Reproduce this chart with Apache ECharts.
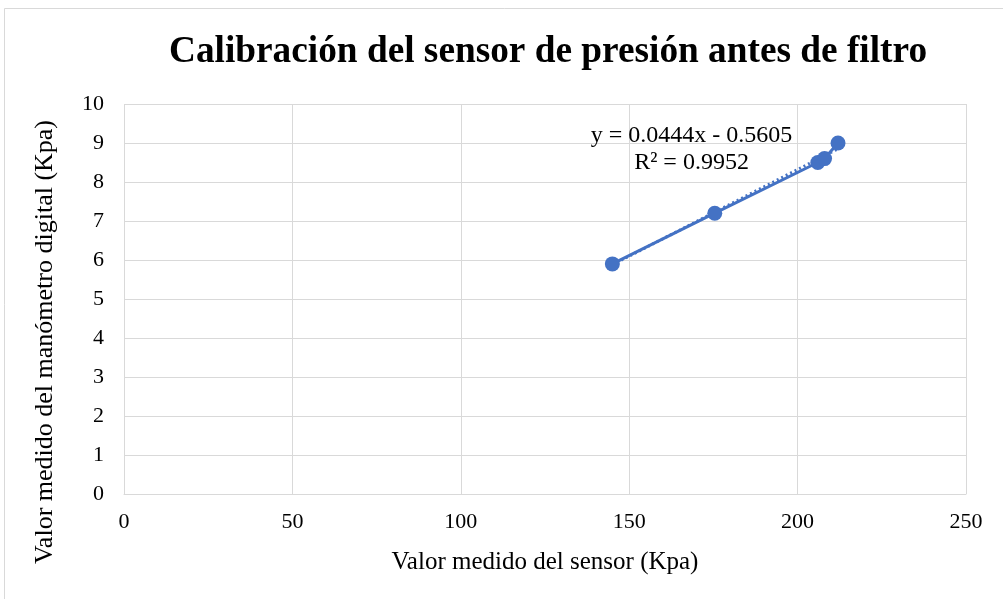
<!DOCTYPE html>
<html><head><meta charset="utf-8">
<script src="https://cdn.jsdelivr.net/npm/echarts@6/dist/echarts.min.js"></script>
<style>html,body{margin:0;padding:0;background:#fff}#c{width:1003px;height:599px}</style>
</head><body><div id="c"></div>
<script>
const sensorX = [145, 175.4, 206, 208, 212];
const manometerY = [5.9, 7.2, 8.5, 8.6, 9.0];
const slope = 0.0444, intercept = -0.5605, r2 = 0.9952;
const xTicks = [0, 50, 100, 150, 200, 250];
const yTicks = [0,1,2,3,4,5,6,7,8,9,10];
const titleText = 'Calibración del sensor de presión antes de filtro';
const xName = 'Valor medido del sensor (Kpa)';
const yName = 'Valor medido del manómetro digital (Kpa)';

const pts = sensorX.map((x,i)=>[x, manometerY[i]]);
const xmin = Math.min(...sensorX), xmax = Math.max(...sensorX);
const trend = [[xmin, slope*xmin+intercept],[xmax, slope*xmax+intercept]];
const font = '"Liberation Serif","Times New Roman",serif';
const chart = echarts.init(document.getElementById('c'));
chart.setOption({
  animation:false,
  title:{text:titleText,left:169,top:34,padding:0,textStyle:{fontFamily:font,fontSize:37.3,fontWeight:'bold',color:'#000'}},
  graphic:[
    {type:'rect',shape:{x:4.5,y:8.5,width:1010,height:600},style:{fill:'none',stroke:'#d9d9d9',lineWidth:1},silent:true},
    {type:'text',x:45,y:342,rotation:Math.PI/2,style:{text:yName,fontFamily:font,fontSize:26,fill:'#000',align:'center',verticalAlign:'middle'},silent:true}
  ],
  grid:{left:124,right:37,top:104,bottom:105},
  xAxis:{type:'value',min:0,max:250,interval:50,name:xName,nameLocation:'middle',nameGap:56,
    nameTextStyle:{fontFamily:font,fontSize:25,color:'#000'},
    axisLine:{show:true,lineStyle:{color:'#d9d9d9'}},axisTick:{show:false},
    axisLabel:{fontFamily:font,fontSize:22,color:'#000',margin:17},
    splitLine:{show:true,lineStyle:{color:'#d9d9d9',width:1}}},
  yAxis:{type:'value',min:0,max:10,interval:1,
    axisLine:{show:false},axisTick:{show:false},
    axisLabel:{fontFamily:font,fontSize:22,color:'#000',margin:20},
    splitLine:{show:true,lineStyle:{color:'#d9d9d9',width:1}}},
  series:[
    {type:'line',data:trend,symbol:'none',lineStyle:{color:'#4472c4',width:3,type:[2,3]},z:2},
    {type:'line',data:pts,symbol:'circle',symbolSize:15,itemStyle:{color:'#4472c4'},lineStyle:{color:'#4472c4',width:3},z:3,
     markPoint:{symbol:'rect',symbolSize:1,itemStyle:{color:'transparent'},
      data:[{coord:[168.5, 8.85],label:{show:true,position:'inside',
        formatter:'{a|y = '+slope+'x - '+Math.abs(intercept)+'}\n{a|R² = '+r2+'}',
        rich:{a:{fontFamily:font,fontSize:24,color:'#000',lineHeight:27,align:'center',width:210}}}}]}}
  ]
});
</script></body></html>
